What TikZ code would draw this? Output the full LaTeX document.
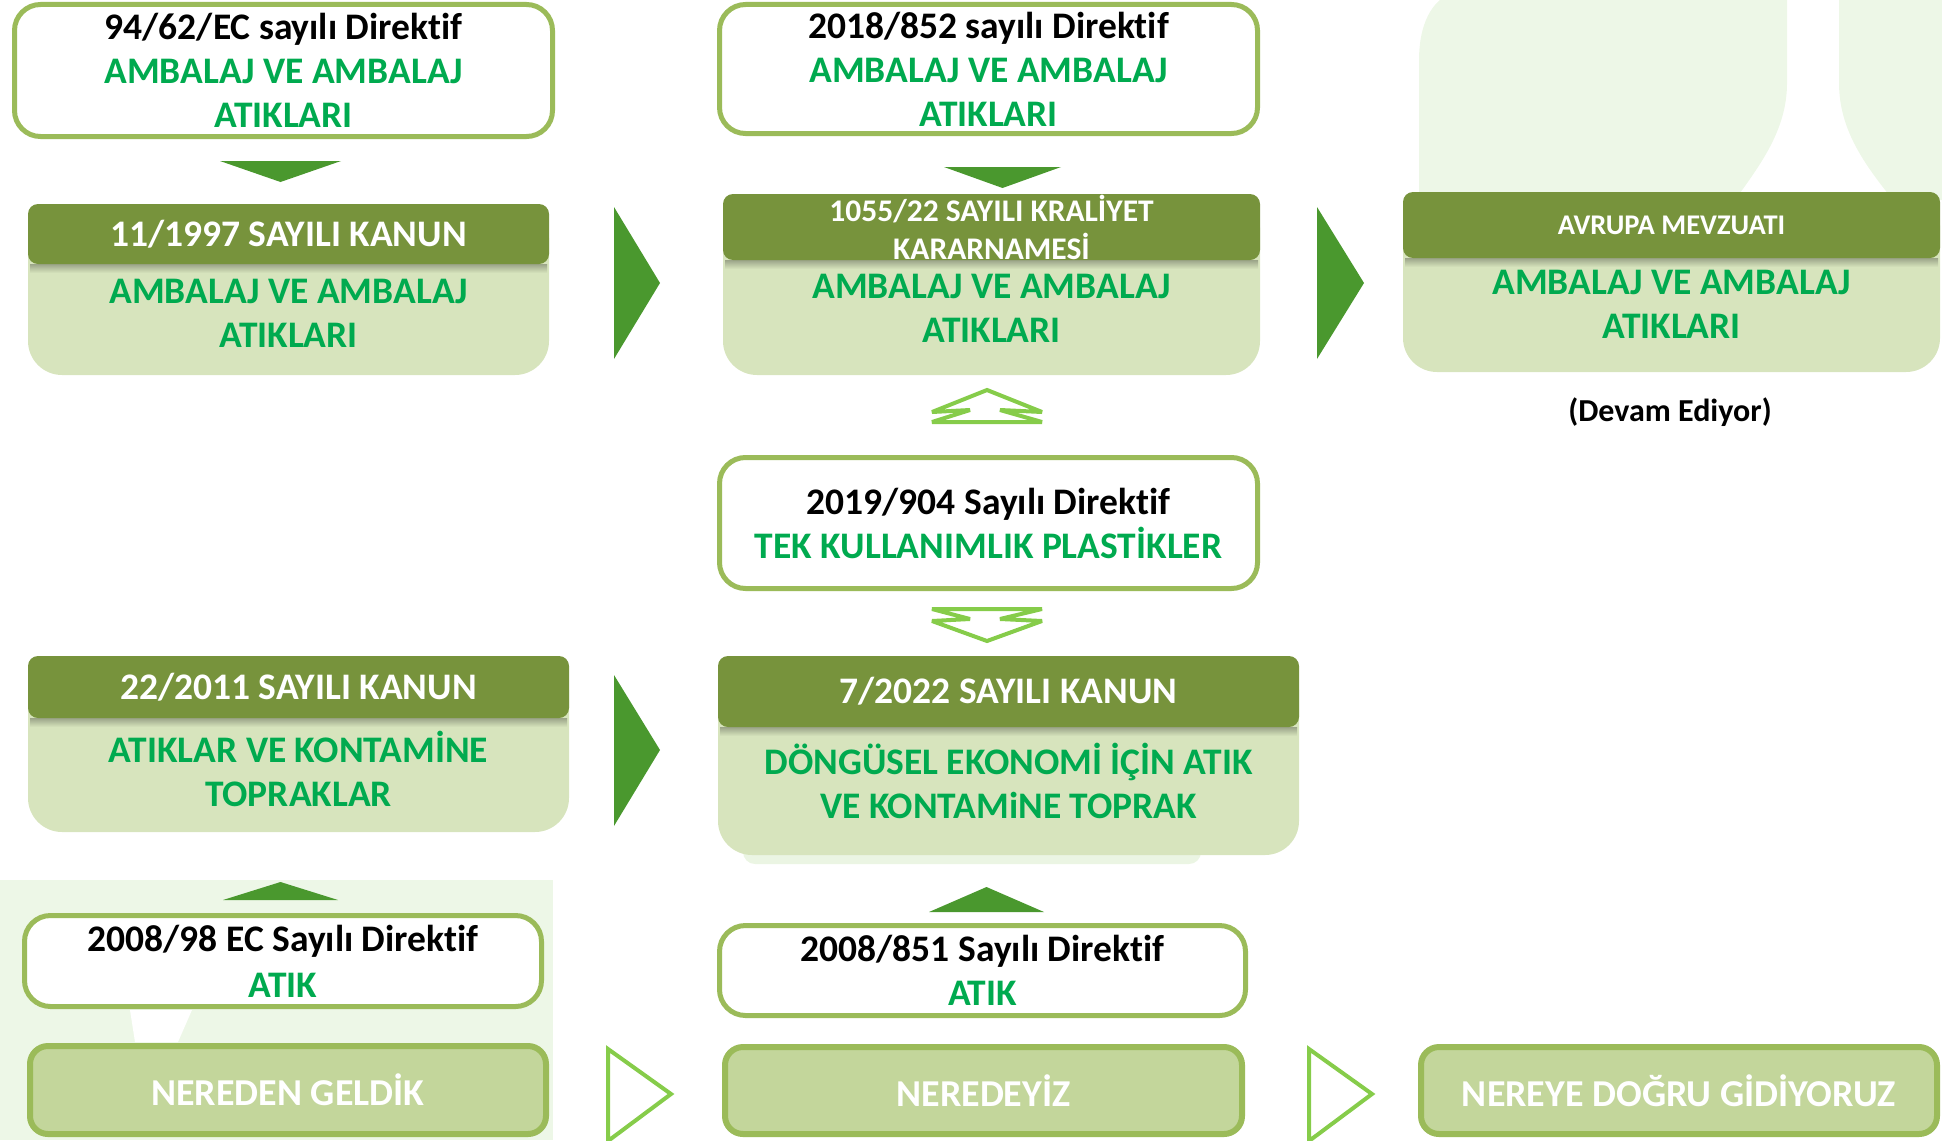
\documentclass[tikz,border=0pt]{standalone}
\usepackage{fontspec}
\setmainfont{Carlito}[Ligatures={NoCommon,NoRare,NoContextual}]
\definecolor{brd}{HTML}{9BBB59}
\definecolor{hdr}{HTML}{77933C}
\definecolor{bodyc}{HTML}{D7E4BD}
\definecolor{btm}{HTML}{C3D69B}
\definecolor{gtxt}{HTML}{00AA4F}
\definecolor{tri}{HTML}{4A982E}
\definecolor{ltri}{HTML}{86CC4A}
\definecolor{bgc}{HTML}{EDF7E7}
\tikzset{
  whitebox/.style={draw=brd, line width=5pt, fill=white, rounded corners=26pt, align=center, inner sep=0pt, font=\bfseries\fontsize{37.5}{44}\selectfont},
  hdrbox/.style={fill=hdr, rounded corners=10pt, text=white, align=center, inner sep=0pt, font=\bfseries\fontsize{37.5}{38}\selectfont},
  smallhdr/.style={font=\bfseries\fontsize{31.5}{38}\selectfont},
  bodybox/.style={fill=bodyc, rounded corners=34pt, inner sep=0pt},
  bodytext/.style={text=gtxt, align=center, inner sep=0pt, font=\bfseries\fontsize{37.5}{44}\selectfont},
  btmbox/.style={draw=brd, line width=6pt, fill=btm, rounded corners=18pt, text=white, inner sep=0pt, font=\bfseries\fontsize{38}{40}\selectfont},
  solidtri/.style={fill=tri},
  opentri/.style={draw=ltri, line width=4pt, line join=miter, miter limit=4},
  shadowstrip/.style={top color=bodyc!72!black, bottom color=bodyc},
}
\begin{document}
\begin{tikzpicture}[x=1pt,y=-1pt]
\useasboundingbox (0,0) rectangle (1942,1140);
% background decorations
\fill[bgc] (1440,0) -- (1787,0) -- (1787,83) .. controls (1787,130) and (1760,165) .. (1735,200) -- (1419,200) -- (1419,60) .. controls (1419,30) and (1428,10) .. (1440,0) -- cycle;
\fill[bgc] (1839,0) -- (1942,0) -- (1942,200) -- (1893,200) .. controls (1865,165) and (1839,130) .. (1839,83) -- cycle;
\fill[bgc] (0,880) rectangle (553,1140);
\fill[white] (130,1010) -- (192,1010) -- (178,1042) -- (135,1042) -- cycle;
\fill[bgc!90!bodyc, rounded corners=12pt] (743,835) rectangle (1201,864);

% white directive boxes
\node[whitebox, minimum width=538pt, minimum height=132pt] (dirA) at (283.5,70.5)
  {94/62/EC sayılı Direktif\\ \textcolor{gtxt}{AMBALAJ VE AMBALAJ}\\ \textcolor{gtxt}{ATIKLARI}};
\node[whitebox, minimum width=538pt, minimum height=129pt] (dirC) at (988.5,69)
  {2018/852 sayılı Direktif\\ \textcolor{gtxt}{AMBALAJ VE AMBALAJ}\\ \textcolor{gtxt}{ATIKLARI}};
\node[whitebox, minimum width=538pt, minimum height=131pt] (dirE) at (988.5,523)
  {2019/904 Sayılı Direktif\\ \textcolor{gtxt}{TEK KULLANIMLIK PLASTİKLER}};
\node[whitebox, minimum width=517pt, minimum height=91pt, font=\bfseries\fontsize{37.5}{46}\selectfont] (dirI) at (283,961)
  {2008/98 EC Sayılı Direktif\\ \textcolor{gtxt}{ATIK}};
\node[whitebox, minimum width=526pt, minimum height=90pt] (dirG) at (982.5,970.5)
  {2008/851 Sayılı Direktif\\ \textcolor{gtxt}{ATIK}};

% law boxes: 11/1997
\node[bodybox, minimum width=521pt, minimum height=171pt] (lawB) at (288.5,289.5) {};
\shade[shadowstrip] (30,264) rectangle (547,273);
\node[hdrbox, minimum width=521pt, minimum height=60pt] (lawBh) at (288.5,234) {11/1997 SAYILI KANUN};
\node[bodytext] (lawBt) at (288.5,313) {AMBALAJ VE AMBALAJ\\ATIKLARI};

% 1055/22
\node[bodybox, minimum width=537pt, minimum height=181pt] (lawD) at (991.5,284.5) {};
\shade[shadowstrip] (725,260) rectangle (1258,269);
\node[hdrbox, smallhdr, minimum width=537pt, minimum height=66pt] (lawDh) at (991.5,227) {1055/22 SAYILI KRALİYET\\KARARNAMESİ};
\node[bodytext] (lawDt) at (991.5,308.5) {AMBALAJ VE AMBALAJ\\ATIKLARI};

% Avrupa
\node[bodybox, minimum width=537pt, minimum height=180pt] (lawJ) at (1671.5,282) {};
\shade[shadowstrip] (1405,258) rectangle (1938,267);
\node[hdrbox, font=\bfseries\fontsize{28.5}{34}\selectfont, minimum width=537pt, minimum height=66pt] (lawJh) at (1671.5,225) {AVRUPA MEVZUATI};
\node[bodytext] (lawJt) at (1671.5,304.5) {AMBALAJ VE AMBALAJ\\ATIKLARI};
\node[font=\bfseries\fontsize{32}{36}\selectfont, inner sep=0pt] (devam) at (1670,412) {(Devam Ediyor)};

% 22/2011
\node[bodybox, minimum width=541pt, minimum height=176pt] (lawH) at (298.5,744) {};
\shade[shadowstrip] (30,718) rectangle (567,727);
\node[hdrbox, minimum width=541pt, minimum height=62pt] (lawHh) at (298.5,687) {22/2011 SAYILI KANUN};
\node[bodytext] (lawHt) at (298.5,769) {ATIKLAR VE KONTAMİNE\\TOPRAKLAR};

% 7/2022
\node[bodybox, minimum width=581pt, minimum height=199pt] (lawF) at (1008.5,755.5) {};
\shade[shadowstrip] (720,727) rectangle (1297,736);
\node[hdrbox, minimum width=581pt, minimum height=71pt] (lawFh) at (1008.5,691.5) {7/2022 SAYILI KANUN};
\node[bodytext] (lawFt) at (1008.5,780.5) {DÖNGÜSEL EKONOMİ İÇİN ATIK\\VE KONTAMiNE TOPRAK};

% bottom labels
\node[btmbox, minimum width=516pt, minimum height=88pt] (where1) at (288,1090) {NEREDEN GELDİK};
\node[btmbox, minimum width=517pt, minimum height=87pt] (where2) at (983.5,1090.5) {NEREDEYİZ};
\node[btmbox, minimum width=516pt, minimum height=87pt] (where3) at (1679,1090.5) {NEREYE DOĞRU GİDİYORUZ};

% solid triangles
\fill[solidtri] (220,161) -- (341,161) -- (280.5,182) -- cycle;
\fill[solidtri] (944,167) -- (1061,167) -- (1002.5,188) -- cycle;
\fill[solidtri] (614,207) -- (660,283) -- (614,359) -- cycle;
\fill[solidtri] (1317,207) -- (1364,283) -- (1317,359) -- cycle;
\fill[solidtri] (614,675) -- (660,750) -- (614,826) -- cycle;
\fill[solidtri] (223,900) -- (338,900) -- (280.5,882) -- cycle;
\fill[solidtri] (929,912) -- (1044,912) -- (986.5,887) -- cycle;

% double arrows (outline)
\draw[opentri] (987,390) -- (1042,412) -- (1000,410) -- (1042,422) -- (932,422) -- (970,410) -- (932,412) -- cycle;
\draw[opentri] (932,609) -- (1042,609) -- (1000,619) -- (1042,621) -- (987,641) -- (932,621) -- (970,619) -- cycle;

% open triangles
\draw[opentri] (608,1049) -- (671,1094) -- (608,1141) -- cycle;
\draw[opentri] (1309,1049) -- (1372,1094) -- (1309,1141) -- cycle;
\end{tikzpicture}
\end{document}
